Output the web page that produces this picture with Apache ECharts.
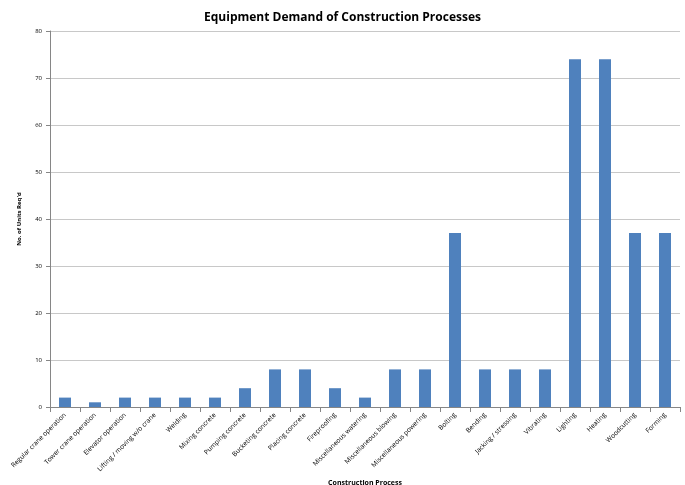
<!DOCTYPE html>
<html>
<head>
<meta charset="utf-8">
<script src="https://cdn.jsdelivr.net/npm/echarts@6/dist/echarts.min.js"></script>
<style>
  html, body { margin: 0; padding: 0; background: #fff; }
  #chart { width: 685px; height: 485px; }
</style>
</head>
<body>
<div id="chart"></div>
<script>
// construction processes along the x axis
var processes = [
    'Regular crane operation', 'Tower crane operation', 'Elevator operation',
    'Lifting / moving w/o crane', 'Welding', 'Mixing concrete', 'Pumping concrete',
    'Bucketing concrete', 'Placing concrete', 'Fireproofing', 'Miscellaneous watering',
    'Miscellaneous blowing', 'Miscellaneous powering', 'Bolting', 'Bending',
    'Jacking / stressing', 'Vibrating', 'Lighting', 'Heating', 'Woodcutting', 'Forming'
];
// number of units required
var unitsReqd = [2, 1, 2, 2, 2, 2, 4, 8, 8, 4, 2, 8, 8, 37, 8, 8, 8, 74, 74, 37, 37];
var yTicks = [0, 10, 20, 30, 40, 50, 60, 70, 80];

var myChart = echarts.init(document.getElementById('chart'));
var option = {
    animation: false,
    title: {
        text: 'Equipment Demand of Construction Processes',
        left: 'center',
        top: 7,
        textStyle: { fontFamily: 'Open Sans', fontSize: 12, fontWeight: 'bold', color: '#000' }
    },
    grid: { left: 50, right: 5, top: 31, bottom: 78, outerBoundsMode: 'none', containLabel: false },
    xAxis: {
        type: 'category',
        data: processes,
        name: 'Construction Process',
        nameLocation: 'middle',
        nameGap: 70,
        nameTextStyle: { fontFamily: 'Open Sans', fontSize: 7, fontWeight: 'bold', color: '#000' },
        axisLine: { lineStyle: { color: '#868686' } },
        axisTick: { show: true, lineStyle: { color: '#868686' } },
        axisLabel: { interval: 0, rotate: 45, fontFamily: 'Open Sans', fontSize: 6.6, color: '#000', margin: 7 }
    },
    yAxis: {
        type: 'value',
        min: yTicks[0],
        max: yTicks[yTicks.length - 1],
        interval: 10,
        name: "No. of Units Req'd",
        nameLocation: 'middle',
        nameGap: 28,
        nameTextStyle: { fontFamily: 'Open Sans', fontSize: 6, fontWeight: 'bold', color: '#000' },
        axisLine: { show: true, lineStyle: { color: '#868686' } },
        axisTick: { show: true, length: 4, lineStyle: { color: '#868686' } },
        axisLabel: { fontFamily: 'Open Sans', fontSize: 6, color: '#000', margin: 8 },
        splitLine: { lineStyle: { color: '#c8c8c8' } }
    },
    series: [{
        type: 'bar',
        data: unitsReqd,
        barWidth: 12,
        itemStyle: { color: '#4f81bd' }
    }]
};
myChart.setOption(option);
</script>
</body>
</html>
